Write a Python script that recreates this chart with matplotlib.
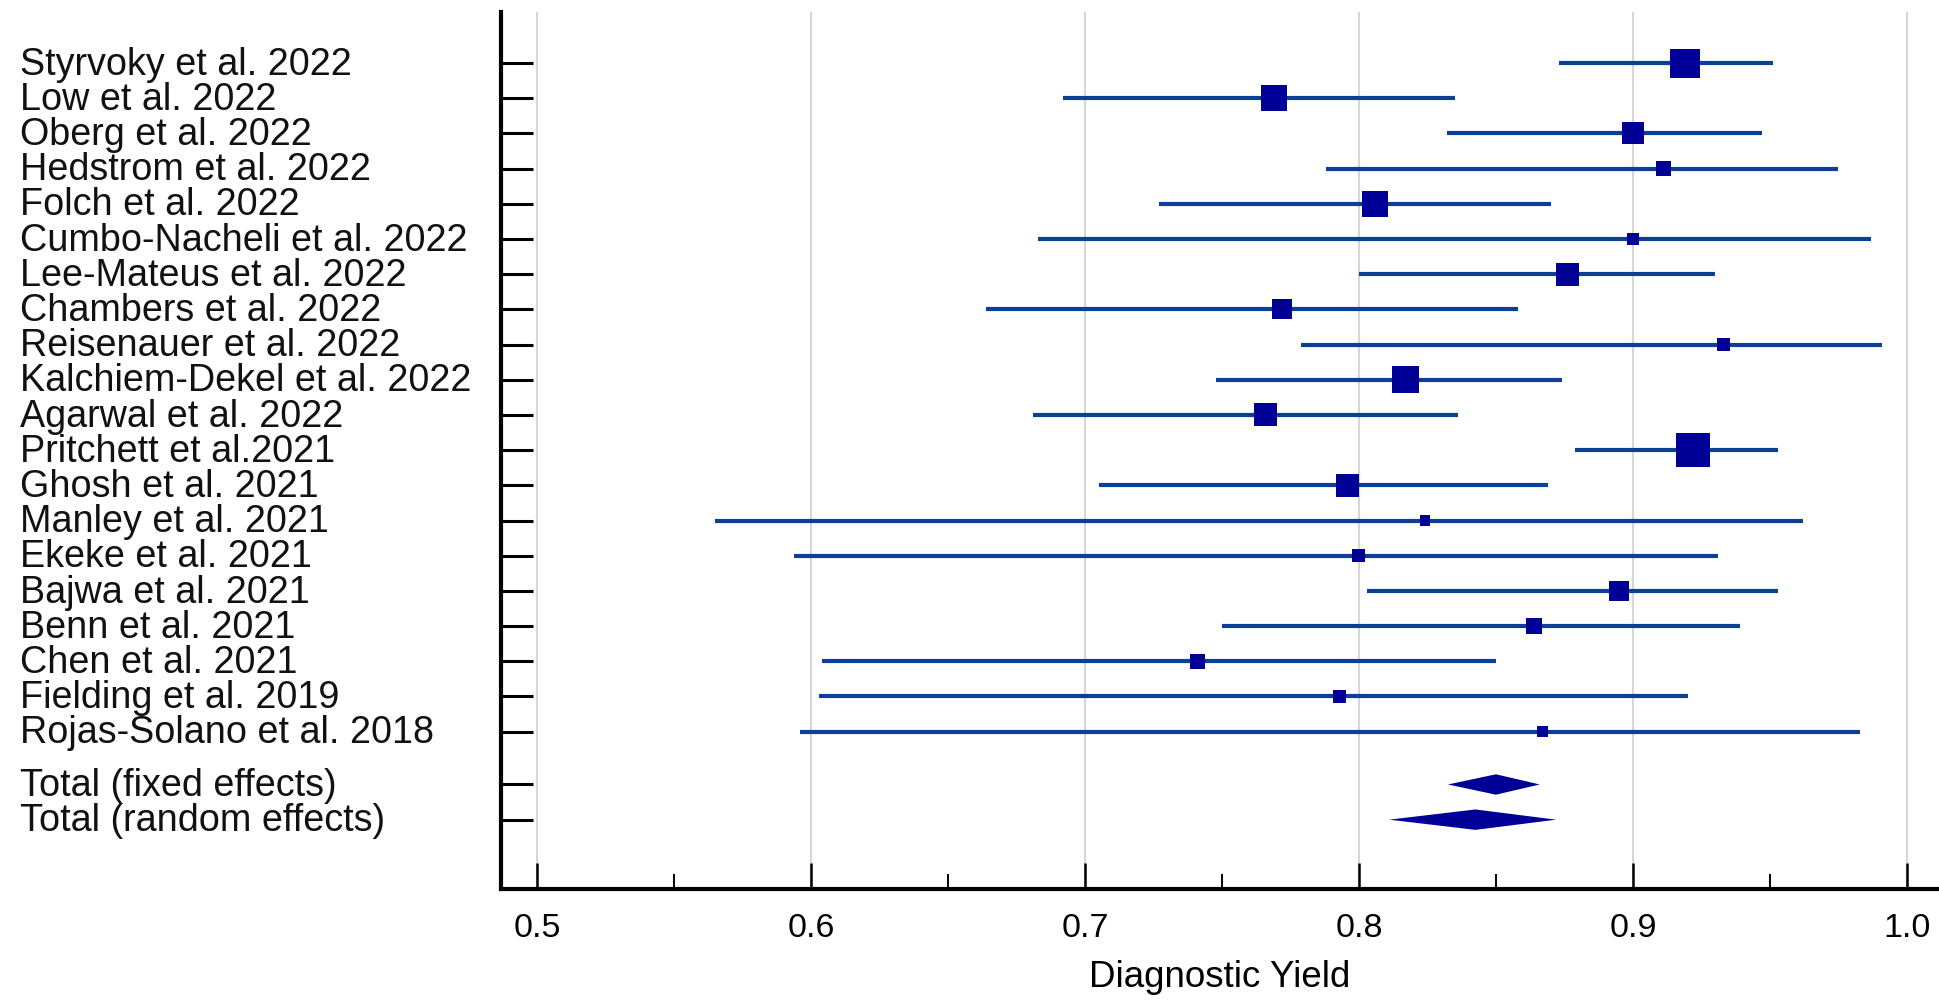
import matplotlib
matplotlib.use('Agg')
import matplotlib.pyplot as plt
import matplotlib.transforms as mtransforms
import numpy as np

studies = ['Styrvoky et al. 2022', 'Low et al. 2022', 'Oberg et al. 2022',
           'Hedstrom et al. 2022', 'Folch et al. 2022', 'Cumbo-Nacheli et al. 2022',
           'Lee-Mateus et al. 2022', 'Chambers et al. 2022', 'Reisenauer et al. 2022',
           'Kalchiem-Dekel et al. 2022', 'Agarwal et al. 2022', 'Pritchett et al.2021',
           'Ghosh et al. 2021', 'Manley et al. 2021', 'Ekeke et al. 2021',
           'Bajwa et al. 2021', 'Benn et al. 2021', 'Chen et al. 2021',
           'Fielding et al. 2019', 'Rojas-Solano et al. 2018']
yield_est = [0.919, 0.769, 0.900, 0.911, 0.806, 0.900, 0.876, 0.772, 0.933, 0.817,
             0.766, 0.922, 0.796, 0.824, 0.800, 0.895, 0.864, 0.741, 0.793, 0.867]
ci_low = [0.873, 0.692, 0.832, 0.788, 0.727, 0.683, 0.800, 0.664, 0.779, 0.748,
          0.681, 0.879, 0.705, 0.565, 0.594, 0.803, 0.750, 0.604, 0.603, 0.596]
ci_high = [0.951, 0.835, 0.947, 0.975, 0.870, 0.987, 0.930, 0.858, 0.991, 0.874,
           0.836, 0.953, 0.869, 0.962, 0.931, 0.953, 0.939, 0.850, 0.920, 0.983]
weights = [9.9, 7.9, 5.7, 2.6, 7.9, 1.7, 6.2, 4.7, 2.0, 8.5,
           6.2, 13.6, 6.2, 1.2, 2.0, 4.7, 3.0, 2.6, 2.1, 1.3]

pooled_labels = ['Total (fixed effects)', 'Total (random effects)']
pooled_est = [0.850, 0.8425]
pooled_low = [0.8325, 0.811]
pooled_high = [0.866, 0.872]

line_col = '#0d3f96'
mark_col = '#000096'
font = 'Liberation Sans'

fig = plt.figure(figsize=(19.39, 10), dpi=100)
ax = fig.add_axes([501 / 1939, 0.111, 1 - 501 / 1939, 0.877])

rows = np.arange(len(studies))
pooled_rows = len(studies) + 0.5 + np.arange(len(pooled_labels))

ax.hlines(rows, ci_low, ci_high, color=line_col, linewidth=3.0, zorder=3)
# square side grows with the study weight
side_pt = 9.235 * np.sqrt(np.array(weights)) * 0.72
ax.scatter(yield_est, rows, s=side_pt ** 2, marker='s', color=mark_col,
           linewidths=0, zorder=4)

h = 0.29
for y, lo, est, hi in zip(pooled_rows, pooled_low, pooled_est, pooled_high):
    ax.fill([lo, est, hi, est], [y, y - h, y, y + h], color=mark_col,
            linewidth=0, zorder=4)

ax.set_xlim(0.4869, 1.0117)
ax.set_ylim(23.47, -1.45)

ax.set_xticks(np.arange(0.5, 1.01, 0.1))
ax.set_xticklabels(['0.5', '0.6', '0.7', '0.8', '0.9', '1.0'], fontsize=24.5, family=font)
ax.set_xticks(np.arange(0.55, 1.0, 0.1), minor=True)
ax.tick_params(axis='x', which='major', direction='in', length=19, width=1.8, pad=17)
ax.tick_params(axis='x', which='minor', direction='in', length=11, width=1.4)
ax.xaxis.grid(True, which='major', color='#d6d6d6', linewidth=1.5, zorder=0)
ax.set_axisbelow(True)

ax.set_yticks(np.concatenate([rows, pooled_rows]))
ax.set_yticklabels([])
ax.tick_params(axis='y', direction='in', length=23, width=2.2)

ax.spines['top'].set_visible(False)
ax.spines['right'].set_visible(False)
ax.spines['left'].set_linewidth(3)
ax.spines['bottom'].set_linewidth(3)

trans = mtransforms.blended_transform_factory(fig.transFigure, ax.transData)
for y, name in zip(np.concatenate([rows, pooled_rows]), studies + pooled_labels):
    ax.text(20 / 1939, y + 0.33, name, transform=trans, ha='left', va='baseline',
            fontsize=27.2, family=font, color='#111111')

ax.set_xlabel('Diagnostic Yield', fontsize=26.5, family=font, labelpad=12)

plt.savefig('out.png', dpi=100)
plt.close()
